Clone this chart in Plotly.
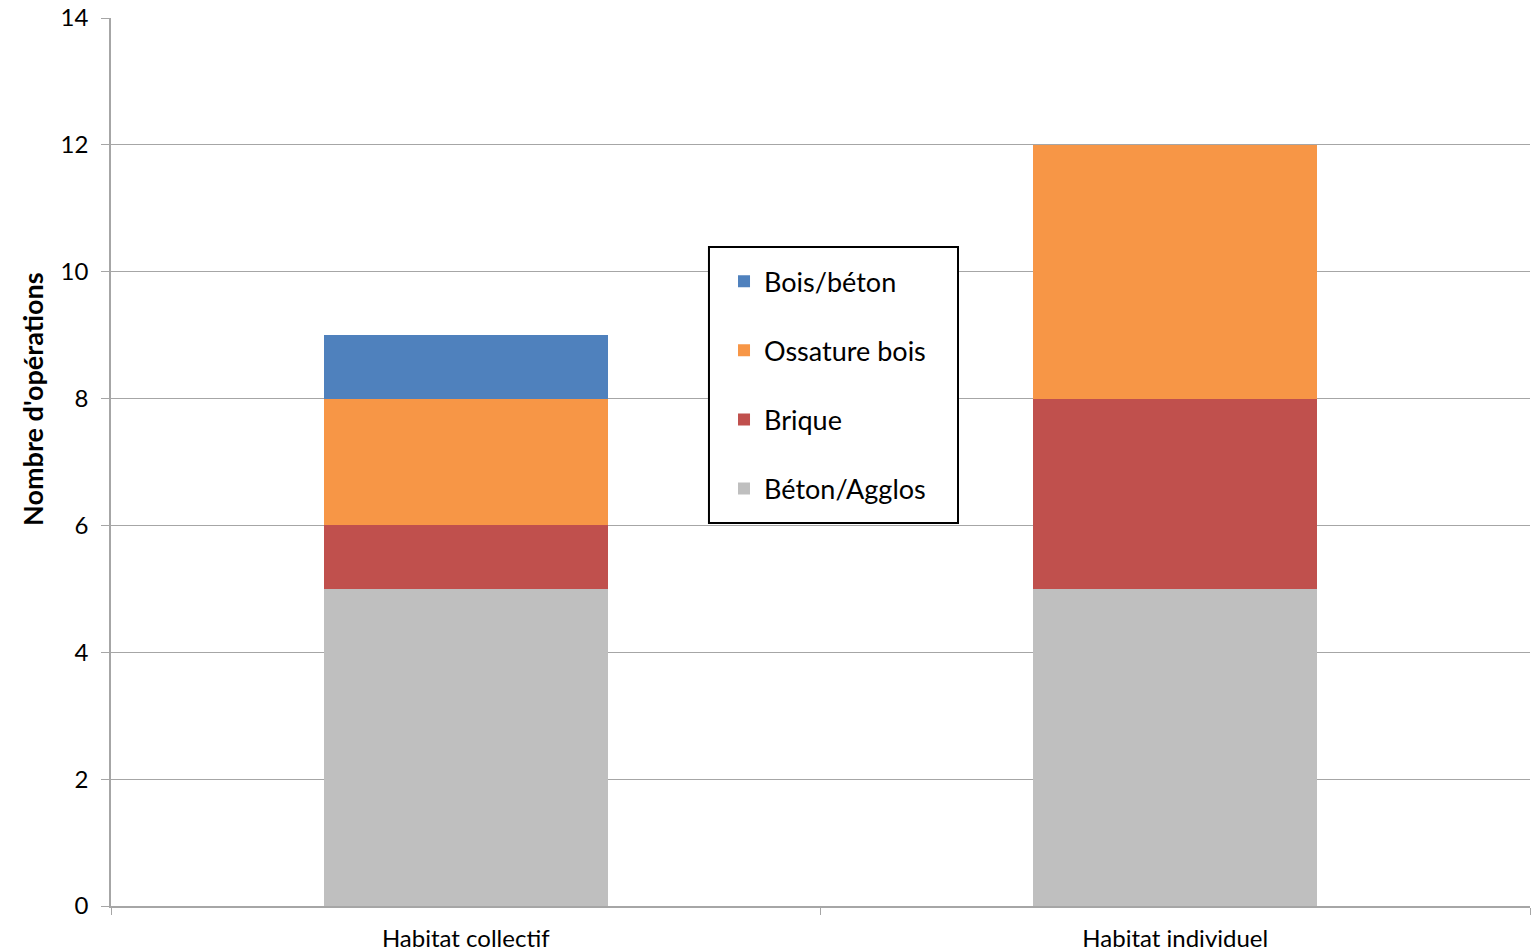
import plotly.graph_objects as go

categories = ["Habitat collectif", "Habitat individuel"]
beton_agglos = [5, 5]
brique = [1, 3]
ossature_bois = [2, 4]
bois_beton = [1, 0]

# (name, values, colour, legend rank) — stacked bottom to top
series = [
    ("Béton/Agglos", beton_agglos, "#BFBFBF", 4),
    ("Brique", brique, "#C0504D", 3),
    ("Ossature bois", ossature_bois, "#F79646", 2),
    ("Bois/béton", bois_beton, "#4F81BD", 1),
]

FONT = "Lato, Open Sans, sans-serif"

fig = go.Figure()
for name, vals, color, rank in series:
    fig.add_trace(go.Bar(
        x=categories, y=vals, name=name, legendgroup=name, legendrank=rank,
        marker=dict(color=color, line=dict(width=0)),
    ))

# framed white panel behind the legend entries
fig.add_shape(
    type="rect", xref="paper", yref="paper",
    x0=0.4214, x1=0.5969, y0=0.4313, y1=0.7421,
    fillcolor="white", line=dict(color="black", width=2), layer="above",
)

# vertical axis title
fig.add_annotation(
    text="<b>Nombre d'opérations</b>", textangle=-90,
    xref="paper", yref="paper", x=-0.055, y=0.571,
    xanchor="center", yanchor="middle", showarrow=False,
    font=dict(size=27, family=FONT, color="black"),
)

fig.update_layout(
    width=1535, height=952,
    margin=dict(l=111, r=5, t=18, b=46),
    barmode="stack", bargap=0.6,
    plot_bgcolor="white", paper_bgcolor="white",
    font=dict(family=FONT, color="black", size=24),
    showlegend=True,
    legend=dict(
        x=0.4320, y=0.7307, xanchor="left", yanchor="top",
        bgcolor="rgba(0,0,0,0)", borderwidth=0,
        font=dict(size=27, family=FONT),
        traceorder="grouped", tracegroupgap=31,
        itemwidth=30,
    ),
    xaxis=dict(
        showgrid=False, showline=True, linecolor="#a6a6a6", linewidth=1.5,
        ticks="outside", tickson="boundaries", ticklen=7, tickcolor="#a6a6a6",
        tickfont=dict(size=24), ticklabelstandoff=10, automargin=False,
    ),
    yaxis=dict(
        range=[0, 14], dtick=2, showgrid=True, gridcolor="#a6a6a6", gridwidth=1,
        showline=True, linecolor="#a6a6a6", linewidth=1.5,
        ticks="outside", ticklen=8, tickcolor="#a6a6a6", ticklabelstandoff=8,
        tickfont=dict(size=24), zeroline=False, automargin=False,
    ),
)

fig.write_html("out.html")
